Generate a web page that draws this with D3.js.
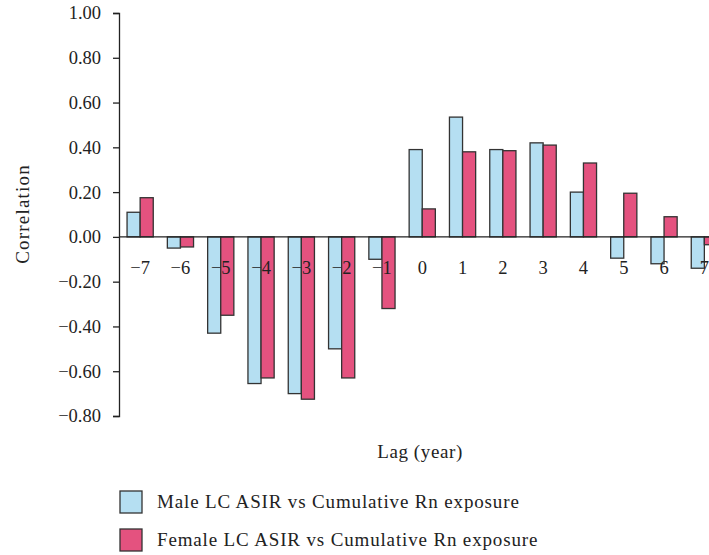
<!DOCTYPE html>
<html>
<head>
<meta charset="utf-8">
<script src="https://cdn.jsdelivr.net/npm/d3@7"></script>
<style>
  body { margin: 0; background: #fff; }
  text { font-family: "Liberation Serif", "DejaVu Serif", serif; fill: #222; }
</style>
</head>
<body>
<div id="chart"></div>
<script>
// lags in years
const lags = [-7, -6, -5, -4, -3, -2, -1, 0, 1, 2, 3, 4, 5, 6, 7];
// Male LC ASIR vs cumulative Rn exposure
const maleCorr = [0.11, -0.05, -0.43, -0.655, -0.70, -0.50, -0.10, 0.39, 0.535, 0.39, 0.42, 0.20, -0.095, -0.12, -0.14];
// Female LC ASIR vs cumulative Rn exposure
const femaleCorr = [0.175, -0.045, -0.35, -0.63, -0.725, -0.63, -0.32, 0.125, 0.38, 0.385, 0.41, 0.33, 0.195, 0.09, -0.035];
const yTicks = [1.0, 0.8, 0.6, 0.4, 0.2, 0, -0.2, -0.4, -0.6, -0.8];
const seriesNames = ["Male LC ASIR vs Cumulative Rn exposure", "Female LC ASIR vs Cumulative Rn exposure"];
const seriesColors = ["#b5dff2", "#e4527f"];

const width = 709, height = 555;

const svg = d3.select("#chart").append("svg")
    .attr("width", width)
    .attr("height", height);

const y = d3.scaleLinear().domain([-0.8, 1.0]).range([416, 13]);
const x = d3.scaleBand().domain(lags).range([120, 724.5])
    .paddingInner(0.35).paddingOuter(0.175);
const x1 = d3.scaleBand().domain([0, 1]).range([0, x.bandwidth()]);

const rows = lags.map((lag, i) => ({ lag, vals: [maleCorr[i], femaleCorr[i]] }));

// bars
const groups = svg.append("g").selectAll("g")
    .data(rows)
    .enter().append("g")
    .attr("transform", d => `translate(${x(d.lag)},0)`);

groups.selectAll("rect")
    .data(d => d.vals.map((v, k) => ({ v, k })))
    .enter().append("rect")
    .attr("x", d => x1(d.k))
    .attr("width", x1.bandwidth())
    .attr("y", d => y(Math.max(0, d.v)))
    .attr("height", d => Math.abs(y(d.v) - y(0)))
    .attr("fill", d => seriesColors[d.k])
    .attr("stroke", "#333")
    .attr("stroke-width", 1.3);

// zero line
svg.append("line")
    .attr("x1", 119).attr("x2", width)
    .attr("y1", y(0)).attr("y2", y(0))
    .attr("stroke", "#222").attr("stroke-width", 1.3);

// y axis
const yAxis = svg.append("g")
    .attr("transform", "translate(119,0)")
    .call(d3.axisLeft(y).tickValues(yTicks).tickFormat(d3.format(".2f")).tickSize(6).tickPadding(12));
yAxis.select(".domain").attr("stroke", "#222").attr("stroke-width", 1.3);
yAxis.selectAll(".tick line").attr("stroke", "#222").attr("stroke-width", 1.3);
yAxis.selectAll("text").style("font-size", "18.5px")
    .style("font-family", "'Liberation Serif', serif").attr("fill", "#222");

// x tick labels, drawn over the bars
const xAxis = svg.append("g")
    .attr("transform", `translate(0,${y(0)})`)
    .call(d3.axisBottom(x).tickFormat(d3.format("d")).tickSize(0).tickPadding(24));
xAxis.select(".domain").remove();
xAxis.selectAll("text").style("font-size", "18.5px")
    .style("font-family", "'Liberation Serif', serif").attr("fill", "#222");

// axis titles
svg.append("text")
    .attr("transform", "translate(29,214) rotate(-90)")
    .attr("text-anchor", "middle")
    .style("font-size", "19px")
    .style("letter-spacing", "1.2px")
    .text("Correlation");

svg.append("text")
    .attr("x", 420).attr("y", 458)
    .attr("text-anchor", "middle")
    .style("font-size", "19px")
    .style("letter-spacing", "0.6px")
    .text("Lag (year)");

// legend
const legend = svg.append("g").selectAll("g")
    .data(seriesNames)
    .enter().append("g")
    .attr("transform", (d, i) => `translate(120,${491 + i * 38})`);

legend.append("rect")
    .attr("width", 22).attr("height", 22)
    .attr("fill", (d, i) => seriesColors[i])
    .attr("stroke", "#333").attr("stroke-width", 1.3);

legend.append("text")
    .attr("x", 37).attr("y", 17)
    .style("font-size", "19px")
    .style("letter-spacing", "0.85px")
    .text(d => d);
</script>
</body>
</html>
